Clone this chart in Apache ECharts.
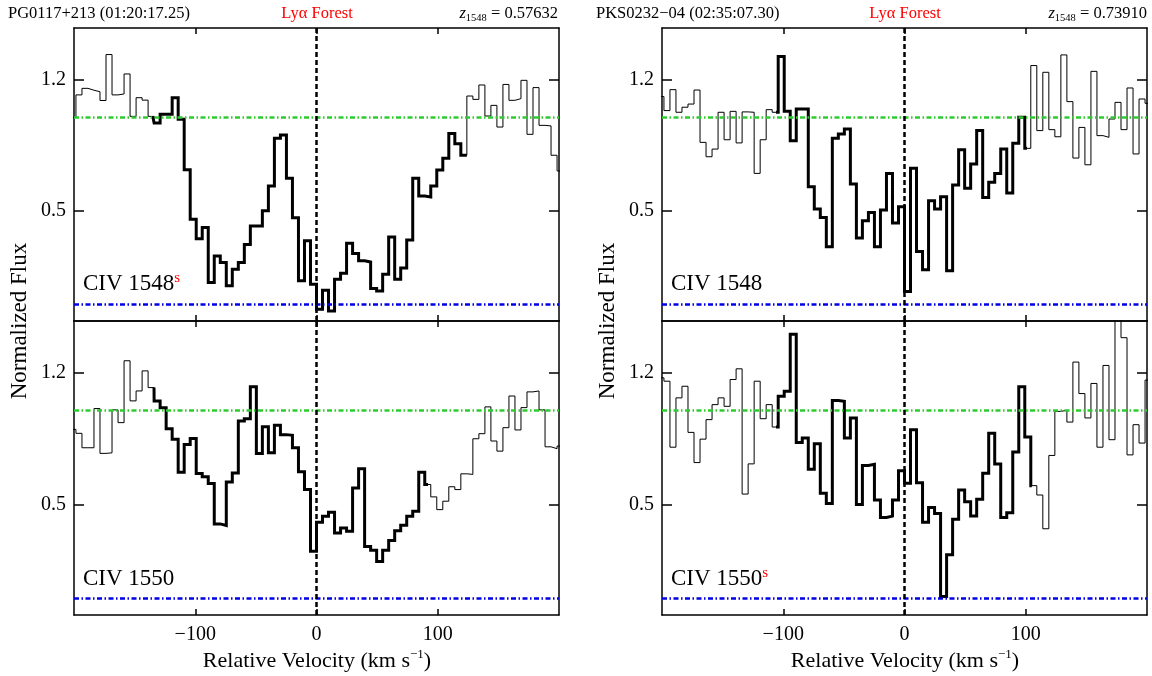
<!DOCTYPE html>
<html>
<head>
<meta charset="utf-8">
<title>C IV absorption profiles</title>
<script src="https://cdn.jsdelivr.net/npm/echarts@6/dist/echarts.min.js"></script>
<style>
  html, body { margin: 0; padding: 0; background: #fff; }
  #chart { width: 1152px; height: 676px; }
</style>
</head>
<body>
<div id="chart"></div>
<script>
// velocity bins (km/s): left edge of the first (partial) bin and bin width
const binStart = -203.36
const binWidth = 4.96

// normalized flux per bin
const fluxPG1548 = [
  1.0, 1.12, 1.155, 1.145, 1.137, 1.09, 1.336, 1.12, 1.125, 1.232,
  1.005, 1.105, 1.092, 1.005, 0.97, 1.016, 1.016, 1.105, 0.99, 0.72,
  0.455, 0.35, 0.41, 0.116, 0.258, 0.223, 0.098, 0.187, 0.223, 0.32,
  0.419, 0.419, 0.5, 0.633, 0.888, 0.905, 0.674, 0.463, 0.125, 0.339,
  0.107, -0.027, 0.075, -0.036, 0.134, 0.166, 0.326, 0.271, 0.232, 0.226,
  0.084, 0.071, 0.16, 0.36, 0.134, 0.193, 0.344, 0.674, 0.579, 0.574,
  0.633, 0.718, 0.781, 0.914, 0.859, 0.797, 1.114, 1.096, 1.173, 1.007,
  1.064, 0.948, 1.176, 1.091, 1.1, 1.198, 0.909, 1.159, 0.957, 0.954,
  0.797, 0.713
]
const fluxPG1550 = [
  0.9, 0.879, 0.802, 0.802, 1.011, 0.772, 0.775, 1.004, 0.936, 1.266,
  1.052, 1.105, 1.212, 1.123, 1.052, 1.016, 0.904, 0.847, 0.672, 0.82,
  0.852, 0.665, 0.647, 0.611, 0.396, 0.387, 0.619, 0.668, 0.945, 0.957,
  1.128, 0.772, 0.914, 0.775, 0.922, 0.872, 0.868, 0.802, 0.674, 0.579,
  0.25, 0.405, 0.437, 0.458, 0.348, 0.374, 0.357, 0.588, 0.69, 0.276,
  0.255, 0.196, 0.255, 0.307, 0.36, 0.389, 0.437, 0.463, 0.672, 0.606,
  0.54, 0.472, 0.517, 0.594, 0.579, 0.663, 0.66, 0.85, 0.877, 1.02,
  0.838, 0.784, 0.909, 1.078, 0.897, 1.016, 1.1, 1.105, 1.004, 0.807,
  0.797, 0.811
]
const fluxPKS1548 = [
  1.111, 1.036, 1.148, 1.027, 1.054, 1.071, 1.146, 0.866, 0.789, 0.83,
  1.027, 0.88, 1.032, 0.863, 1.029, 1.027, 0.7, 0.88, 1.041, 1.027,
  1.325, 1.032, 0.875, 1.045, 1.045, 0.629, 0.509, 0.464, 0.307, 0.888,
  0.911, 0.9375, 0.643, 0.354, 0.446, 0.491, 0.307, 0.504, 0.7, 0.434,
  0.521, 0.068, 0.727, 0.282, 0.184, 0.554, 0.509, 0.575, 0.179, 0.6375,
  0.827, 0.621, 0.75, 0.929, 0.571, 0.652, 0.7, 0.83, 0.595, 0.861,
  1.0, 0.834, 1.277, 0.929, 1.241, 0.934, 0.896, 1.334, 1.084, 0.782,
  0.946, 0.746, 1.246, 0.902, 0.893, 0.991, 1.08, 0.934, 1.157, 0.804,
  1.098, 1.075
]
const fluxPKS1550 = [
  1.175, 1.157, 0.805, 1.068, 1.13, 0.884, 0.723, 0.848, 0.952, 1.032,
  1.068, 1.023, 1.166, 1.223, 0.555, 0.716, 1.157, 0.957, 1.032, 0.9125,
  1.077, 1.104, 1.407, 0.83, 0.854, 0.6875, 0.823, 0.559, 0.505, 1.054,
  1.05, 0.854, 0.961, 0.5, 0.707, 0.714, 0.523, 0.43, 0.4375, 0.523,
  0.68, 0.6125, 0.898, 0.616, 0.405, 0.484, 0.452, 0.009, 0.232, 0.421,
  0.577, 0.514, 0.4375, 0.527, 0.666, 0.88, 0.716, 0.43, 0.455, 0.779,
  1.127, 0.859, 0.6, 0.55, 0.37, 0.761, 0.996, 1.002, 0.939, 1.259,
  1.091, 0.961, 1.145, 0.805, 1.241, 0.845, 1.55, 1.389, 0.764, 0.925,
  0.827, 1.163
]

// velocity windows drawn with the thick line
const windowPG1548 = [-135, 124]
const windowPG1550 = [-134, 92]
const windowPKS1548 = [-106, 101]
const windowPKS1550 = [-106, 105]

const xTicks = [-100, 0, 100]
const yTicks = [0.5, 1.2]
const continuumLevel = 1
const zeroLevel = 0

const serif = "'Liberation Serif', 'Times New Roman', 'DejaVu Serif', serif"

const panels = [
  { flux: fluxPG1548, win: windowPG1548, grid: { left: 74, top: 28, width: 485, height: 293 }, bottom: false },
  { flux: fluxPG1550, win: windowPG1550, grid: { left: 74, top: 321, width: 485, height: 294 }, bottom: true },
  { flux: fluxPKS1548, win: windowPKS1548, grid: { left: 662, top: 28, width: 485, height: 293 }, bottom: false },
  { flux: fluxPKS1550, win: windowPKS1550, grid: { left: 662, top: 321, width: 485, height: 294 }, bottom: true }
]

// histogram outline clipped to [lo, hi], for step: 'end'
function stepPoints(values, lo, hi) {
  const pts = []
  let lastVal = null
  let lastEnd = null
  values.forEach((v, i) => {
    const a = binStart + i * binWidth
    const b = a + binWidth
    if (b <= lo || a >= hi) return
    pts.push([Math.max(a, lo), v])
    lastVal = v
    lastEnd = Math.min(b, hi)
  })
  pts.push([lastEnd, lastVal])
  return pts
}

const frame = { show: true, onZero: false, lineStyle: { color: '#000', width: 1.5 } }
const minus = v => (v < 0 ? '\u2212' + Math.abs(v) : String(v))

const xAxis = []
const yAxis = []
const series = []
panels.forEach((p, i) => {
  xAxis.push({
    type: 'value', gridIndex: i, position: 'bottom', min: -200, max: 200,
    axisLine: frame,
    axisTick: { inside: true, length: 6, customValues: xTicks, lineStyle: { color: '#000', width: 1.5 } },
    axisLabel: {
      show: p.bottom, customValues: xTicks, formatter: minus, margin: 10,
      color: '#000', fontFamily: serif, fontSize: 20
    },
    splitLine: { show: false }
  })
  xAxis.push({
    type: 'value', gridIndex: i, position: 'top', min: -200, max: 200,
    axisLine: frame,
    axisTick: { inside: true, length: 6, customValues: xTicks, lineStyle: { color: '#000', width: 1.5 } },
    axisLabel: { show: false },
    splitLine: { show: false }
  })
  yAxis.push({
    type: 'value', gridIndex: i, position: 'left', min: -0.09, max: 1.478,
    axisLine: frame,
    axisTick: { inside: true, length: 10, customValues: yTicks, lineStyle: { color: '#000', width: 1.5 } },
    axisLabel: {
      customValues: yTicks, formatter: v => v.toFixed(1), margin: 8,
      color: '#000', fontFamily: serif, fontSize: 20
    },
    splitLine: { show: false }
  })
  yAxis.push({
    type: 'value', gridIndex: i, position: 'right', min: -0.09, max: 1.478,
    axisLine: frame,
    axisTick: { inside: true, length: 10, customValues: yTicks, lineStyle: { color: '#000', width: 1.5 } },
    axisLabel: { show: false },
    splitLine: { show: false }
  })

  series.push({
    type: 'line', xAxisIndex: 2 * i, yAxisIndex: 2 * i, step: 'end',
    data: stepPoints(p.flux, -Infinity, Infinity),
    showSymbol: false, silent: true, clip: true, z: 3,
    lineStyle: { color: '#000', width: 1, join: 'miter' },
    markLine: {
      silent: true, symbol: 'none', label: { show: false }, animation: false,
      data: [
        { yAxis: continuumLevel, lineStyle: { color: '#2ecc2e', width: 2.5, type: [5, 2.5, 1.5, 2.5] } },
        { yAxis: zeroLevel, lineStyle: { color: '#0000e6', width: 2.5, type: [5, 2.5, 1.5, 2.5] } },
        { xAxis: 0, lineStyle: { color: '#000', width: 2.5, type: [5, 3] } }
      ]
    }
  })
  series.push({
    type: 'line', xAxisIndex: 2 * i, yAxisIndex: 2 * i, step: 'end',
    data: stepPoints(p.flux, p.win[0], p.win[1]),
    showSymbol: false, silent: true, clip: true, z: 4,
    lineStyle: { color: '#000', width: 3, join: 'miter' }
  })
})

function text(x, y, str, extra) {
  return {
    type: 'text', x, y, silent: true,
    style: Object.assign({
      text: str, fill: '#000', fontFamily: serif, fontSize: 16.5,
      align: 'left', verticalAlign: 'middle'
    }, extra)
  }
}
const zRich = {
  z: { fontStyle: 'italic', fontFamily: serif, fontSize: 16.5, lineHeight: 20 },
  sub: { fontFamily: serif, fontSize: 10.5, lineHeight: 10, verticalAlign: 'bottom' },
  n: { fontFamily: serif, fontSize: 16.5, lineHeight: 20 }
}
const ionRich = {
  m: { fontFamily: serif, fontSize: 23, lineHeight: 26 },
  s: { fontFamily: serif, fontSize: 15, lineHeight: 14, fill: '#ff0000', verticalAlign: 'top' }
}
const velRich = {
  m: { fontFamily: serif, fontSize: 22, lineHeight: 26 },
  s: { fontFamily: serif, fontSize: 13, lineHeight: 14, verticalAlign: 'top' }
}

const graphic = [
  text(8, 14, 'PG0117+213 (01:20:17.25)'),
  text(317, 14, 'Ly\u03b1 Forest', { align: 'center', fill: '#ff0000' }),
  text(558, 14, '{z|z}{sub|1548}{n| = 0.57632}', { align: 'right', rich: zRich }),
  text(596, 14, 'PKS0232\u221204 (02:35:07.30)'),
  text(905, 14, 'Ly\u03b1 Forest', { align: 'center', fill: '#ff0000' }),
  text(1147, 14, '{z|z}{sub|1548}{n| = 0.73910}', { align: 'right', rich: zRich }),

  text(83, 284, '{m|CIV 1548}{s|s}', { rich: ionRich }),
  text(83, 579, '{m|CIV 1550}', { rich: ionRich }),
  text(671, 284, '{m|CIV 1548}', { rich: ionRich }),
  text(671, 579, '{m|CIV 1550}{s|s}', { rich: ionRich }),

  text(317, 661, '{m|Relative Velocity (km s}{s|\u22121}{m|)}', { align: 'center', rich: velRich }),
  text(905, 661, '{m|Relative Velocity (km s}{s|\u22121}{m|)}', { align: 'center', rich: velRich }),

  Object.assign(text(20, 321, 'Normalized Flux', { align: 'center', fontSize: 23 }), { rotation: Math.PI / 2 }),
  Object.assign(text(608, 321, 'Normalized Flux', { align: 'center', fontSize: 23 }), { rotation: Math.PI / 2 })
]

const chart = echarts.init(document.getElementById('chart'))
chart.setOption({
  backgroundColor: '#fff',
  animation: false,
  grid: panels.map(p => Object.assign({ containLabel: false }, p.grid)),
  xAxis,
  yAxis,
  series,
  graphic
})
</script>
</body>
</html>
